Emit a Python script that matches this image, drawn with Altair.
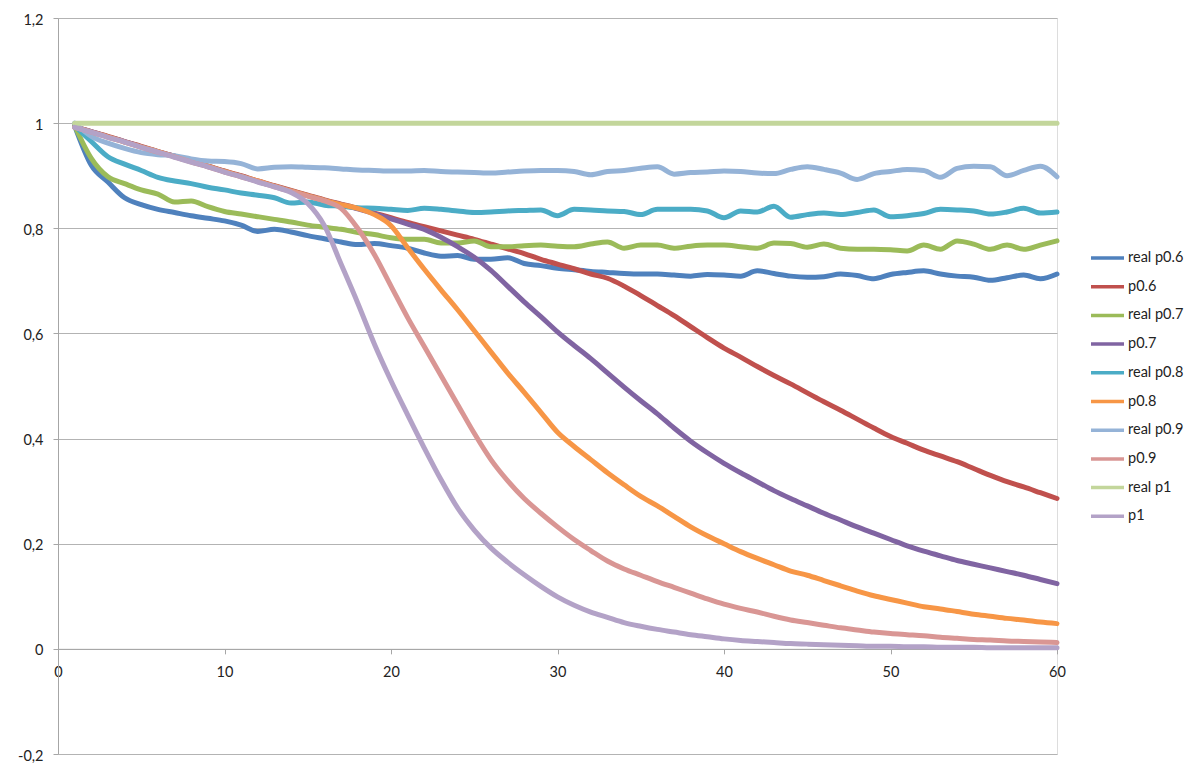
import altair as alt
import pandas as pd

x_vals = list(range(1, 61))

series_names = ["real p0.6", "p0.6", "real p0.7", "p0.7", "real p0.8",
                "p0.8", "real p0.9", "p0.9", "real p1", "p1"]
series_colors = ["#4F81BD", "#C0504D", "#9BBB59", "#8064A2", "#4BACC6",
                 "#F79646", "#95B3D7", "#D99694", "#C3D69B", "#B3A2C7"]

real_p06 = [0.995, 0.920, 0.888, 0.858, 0.845, 0.836, 0.830, 0.824, 0.819, 0.814,
            0.806, 0.794, 0.798, 0.793, 0.786, 0.780, 0.774, 0.769, 0.771, 0.767,
            0.762, 0.753, 0.747, 0.748, 0.741, 0.741, 0.744, 0.733, 0.729, 0.724,
            0.721, 0.718, 0.716, 0.714, 0.713, 0.713, 0.711, 0.709, 0.712, 0.711,
            0.709, 0.719, 0.714, 0.709, 0.707, 0.708, 0.713, 0.710, 0.704, 0.712,
            0.716, 0.719, 0.713, 0.709, 0.707, 0.701, 0.706, 0.711, 0.704, 0.713]
p06 = [0.993, 0.984, 0.975, 0.965, 0.956, 0.946, 0.937, 0.928, 0.918, 0.909,
       0.900, 0.890, 0.881, 0.872, 0.863, 0.854, 0.846, 0.838, 0.829, 0.820,
       0.811, 0.803, 0.795, 0.787, 0.779, 0.770, 0.761, 0.752, 0.741, 0.732,
       0.723, 0.713, 0.705, 0.690, 0.672, 0.653, 0.634, 0.613, 0.592, 0.572,
       0.555, 0.537, 0.520, 0.504, 0.487, 0.470, 0.454, 0.437, 0.420, 0.404,
       0.391, 0.378, 0.367, 0.356, 0.343, 0.330, 0.318, 0.308, 0.297, 0.286]
real_p07 = [0.995, 0.933, 0.898, 0.885, 0.873, 0.865, 0.850, 0.852, 0.841, 0.832,
            0.827, 0.822, 0.817, 0.812, 0.806, 0.802, 0.798, 0.792, 0.788, 0.782,
            0.779, 0.779, 0.772, 0.772, 0.776, 0.765, 0.765, 0.767, 0.768, 0.766,
            0.765, 0.770, 0.774, 0.762, 0.768, 0.768, 0.762, 0.766, 0.768, 0.768,
            0.765, 0.762, 0.772, 0.771, 0.764, 0.770, 0.762, 0.760, 0.760, 0.759,
            0.757, 0.768, 0.760, 0.776, 0.770, 0.760, 0.768, 0.760, 0.768, 0.776]
p07 = [0.993, 0.984, 0.974, 0.965, 0.955, 0.946, 0.937, 0.927, 0.918, 0.908,
       0.899, 0.889, 0.880, 0.871, 0.862, 0.853, 0.845, 0.837, 0.828, 0.818,
       0.808, 0.798, 0.783, 0.765, 0.745, 0.720, 0.690, 0.660, 0.632, 0.603,
       0.577, 0.552, 0.525, 0.498, 0.472, 0.447, 0.420, 0.395, 0.373, 0.353,
       0.335, 0.318, 0.301, 0.286, 0.272, 0.258, 0.245, 0.232, 0.220, 0.208,
       0.196, 0.186, 0.177, 0.168, 0.161, 0.154, 0.147, 0.140, 0.132, 0.124]
real_p08 = [0.995, 0.965, 0.936, 0.922, 0.910, 0.897, 0.890, 0.885, 0.878, 0.873,
            0.867, 0.863, 0.858, 0.848, 0.850, 0.844, 0.842, 0.839, 0.838, 0.836,
            0.834, 0.838, 0.836, 0.833, 0.830, 0.831, 0.833, 0.834, 0.835, 0.824,
            0.836, 0.835, 0.833, 0.832, 0.826, 0.836, 0.836, 0.836, 0.833, 0.820,
            0.833, 0.831, 0.842, 0.821, 0.826, 0.829, 0.826, 0.830, 0.835, 0.822,
            0.824, 0.828, 0.836, 0.835, 0.833, 0.827, 0.831, 0.838, 0.829, 0.831]
p08 = [0.993, 0.983, 0.974, 0.964, 0.955, 0.946, 0.936, 0.927, 0.918, 0.908,
       0.899, 0.890, 0.880, 0.871, 0.862, 0.853, 0.845, 0.838, 0.826, 0.805,
       0.763, 0.722, 0.683, 0.645, 0.605, 0.565, 0.525, 0.488, 0.450, 0.412,
       0.385, 0.360, 0.335, 0.312, 0.290, 0.272, 0.252, 0.232, 0.215, 0.200,
       0.185, 0.172, 0.160, 0.148, 0.140, 0.130, 0.120, 0.110, 0.101, 0.094,
       0.087, 0.080, 0.076, 0.071, 0.066, 0.062, 0.058, 0.055, 0.051, 0.048]
real_p09 = [1.000, 0.975, 0.962, 0.952, 0.944, 0.940, 0.938, 0.932, 0.928, 0.927,
            0.923, 0.913, 0.916, 0.917, 0.916, 0.915, 0.913, 0.911, 0.910, 0.909,
            0.909, 0.910, 0.908, 0.907, 0.906, 0.905, 0.907, 0.909, 0.910, 0.910,
            0.908, 0.902, 0.908, 0.910, 0.914, 0.917, 0.903, 0.906, 0.907, 0.909,
            0.908, 0.905, 0.904, 0.912, 0.917, 0.912, 0.905, 0.893, 0.904, 0.908,
            0.912, 0.910, 0.897, 0.914, 0.918, 0.917, 0.900, 0.910, 0.918, 0.898]
p09 = [0.992, 0.983, 0.973, 0.964, 0.954, 0.945, 0.936, 0.926, 0.917, 0.907,
       0.898, 0.889, 0.879, 0.870, 0.861, 0.852, 0.838, 0.800, 0.750, 0.690,
       0.630, 0.575, 0.520, 0.465, 0.410, 0.360, 0.320, 0.286, 0.258, 0.232,
       0.208, 0.187, 0.167, 0.152, 0.140, 0.128, 0.117, 0.106, 0.095, 0.085,
       0.077, 0.070, 0.062, 0.055, 0.050, 0.045, 0.040, 0.036, 0.032, 0.029,
       0.027, 0.025, 0.022, 0.020, 0.018, 0.017, 0.015, 0.014, 0.013, 0.012]
real_p1 = [1.0] * 60
p1 = [0.992, 0.983, 0.973, 0.964, 0.954, 0.945, 0.935, 0.926, 0.917, 0.907,
      0.898, 0.888, 0.879, 0.868, 0.847, 0.805, 0.732, 0.658, 0.580, 0.510,
      0.445, 0.382, 0.322, 0.268, 0.226, 0.192, 0.165, 0.141, 0.119, 0.099,
      0.083, 0.070, 0.060, 0.050, 0.043, 0.037, 0.032, 0.027, 0.023, 0.019,
      0.016, 0.014, 0.012, 0.010, 0.009, 0.008, 0.007, 0.006, 0.005, 0.005,
      0.004, 0.004, 0.003, 0.003, 0.003, 0.002, 0.002, 0.002, 0.002, 0.002]

series_values = [real_p06, p06, real_p07, p07, real_p08, p08, real_p09, p09, real_p1, p1]

x_ticks = [0, 10, 20, 30, 40, 50, 60]
y_ticks = [-0.2, 0, 0.2, 0.4, 0.6, 0.8, 1.0, 1.2]

rows = []
for name, vals in zip(series_names, series_values):
    for xv, yv in zip(x_vals, vals):
        rows.append({"series": name, "x": xv, "y": yv})
df = pd.DataFrame(rows)

FONT = "Lato"
TXT = "#222222"
GRID = "#b3b3b3"
AXIS = "#a6a6a6"

W, H = 999, 736
zero_offset = -H * 0.2 / 1.4

x_enc = alt.X("x:Q", scale=alt.Scale(domain=[0, 60], nice=False, zero=False),
              axis=alt.Axis(values=x_ticks, grid=False, offset=zero_offset, title=None,
                            tickSize=5, tickColor=AXIS, domainColor=AXIS,
                            labelFont=FONT, labelFontSize=14.5, labelColor=TXT,
                            labelPadding=12, labelFlush=False, format="d"))
y_enc = alt.Y("y:Q", scale=alt.Scale(domain=[-0.2, 1.2], nice=False, zero=False),
              axis=alt.Axis(values=y_ticks, grid=True, gridColor=GRID, title=None,
                            tickSize=5, tickColor=AXIS, domainColor=AXIS,
                            labelFont=FONT, labelFontSize=14.5, labelColor=TXT,
                            labelPadding=10, labelFlush=False, labelOffset=2,
                            labelExpr="replace('' + datum.value, '.', ',')"))
c_enc = alt.Color("series:N",
                  scale=alt.Scale(domain=series_names, range=series_colors),
                  legend=alt.Legend(title=None, orient="none", legendX=1031, legendY=230,
                                    symbolType="stroke", symbolSize=1089,
                                    symbolStrokeWidth=3.5, clipHeight=20, rowPadding=8.7,
                                    labelFont=FONT, labelFontSize=14.5, labelColor=TXT,
                                    labelOffset=2, padding=0))

layers = []
for name in series_names:
    layers.append(
        alt.Chart(df).transform_filter(alt.datum.series == name)
        .mark_line(strokeWidth=5, interpolate="monotone", strokeCap="round", strokeJoin="round")
        .encode(x=x_enc, y=y_enc, color=c_enc)
    )

chart = alt.layer(*layers).properties(
    width=W, height=H,
    autosize=alt.AutoSizeParams(type="none"),
    padding={"left": 50, "top": 10, "right": 133, "bottom": 10},
).configure_view(strokeWidth=0).configure(background="white")

chart.save("out.html", embed_options={"renderer": "svg", "actions": False})
